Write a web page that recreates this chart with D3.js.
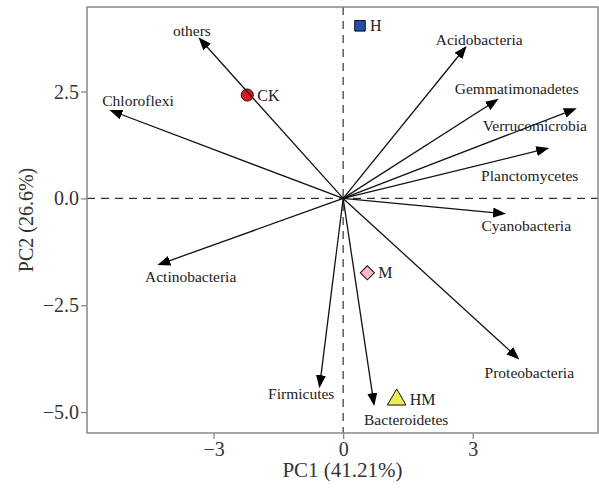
<!DOCTYPE html>
<html>
<head>
<meta charset="utf-8">
<script src="https://cdn.jsdelivr.net/npm/d3@7"></script>
<style>
  body { margin: 0; background: #fff; }
  svg { display: block; font-family: 'Liberation Serif', 'Times New Roman', serif; }
</style>
</head>
<body>
<div id="chart"></div>
<script>
// PCA biplot: phylum loadings (arrows) and sample scores (points)

// Loadings (arrow tips) in PC units
const taxa = ['others', 'Chloroflexi', 'Acidobacteria', 'Gemmatimonadetes', 'Verrucomicrobia',
    'Planctomycetes', 'Cyanobacteria', 'Proteobacteria', 'Bacteroidetes', 'Firmicutes', 'Actinobacteria'];
const loadPC1 = [-3.35, -5.41, 2.86, 3.60, 5.41, 4.77, 3.77, 4.08, 0.72, -0.55, -4.30];
const loadPC2 = [3.77, 2.07, 3.57, 2.33, 2.11, 1.18, -0.36, -3.77, -4.86, -4.44, -1.56];

// Where each taxon name sits (PC units, text centre)
const labelPC1 = [-3.50, -4.75, 3.15, 4.02, 4.44, 4.32, 4.24, 4.31, 1.46, -0.97, -3.53];
const labelPC2 = [3.93, 2.30, 3.72, 2.56, 1.70, 0.53, -0.64, -4.07, -5.17, -4.57, -1.82];

// Sample scores
const samples = ['CK', 'H', 'M', 'HM'];
const scorePC1 = [-2.22, 0.39, 0.56, 1.24];
const scorePC2 = [2.42, 4.04, -1.74, -4.71];
const sampleColors = ['#e0161d', '#1f4fa6', '#f7b8c3', '#eeec55'];
const sampleShapes = ['circle', 'square', 'diamond', 'triangle'];

// Axes
const xTicks = [-3, 0, 3];
const yTicks = [2.5, 0, -2.5, -5];
const xDomain = [-5.93, 5.90];
const yDomain = [-5.49, 4.48];
const xTitle = 'PC1 (41.21%)';
const yTitle = 'PC2 (26.6%)';

const W = 599, H = 489;
const margin = { top: 7, right: 1, bottom: 56, left: 87 };
const iw = W - margin.left - margin.right;
const ih = H - margin.top - margin.bottom;

const svg = d3.select('#chart').append('svg')
    .attr('width', W)
    .attr('height', H);

const g = svg.append('g')
    .attr('transform', `translate(${margin.left},${margin.top})`);

const x = d3.scaleLinear().domain(xDomain).range([0, iw]);
const y = d3.scaleLinear().domain(yDomain).range([ih, 0]);

// symbol drawing: size in px area, half width used for label offset
const shapeStyle = {
    circle:   { type: d3.symbolCircle,   size: 115, rot: 0,  half: 6 },
    square:   { type: d3.symbolSquare,   size: 112, rot: 0,  half: 6 },
    diamond:  { type: d3.symbolSquare,   size: 100, rot: 45, half: 7 },
    triangle: { type: d3.symbolTriangle, size: 150, rot: 0,  half: 9 }
};

// arrowhead
svg.append('defs').append('marker')
    .attr('id', 'head')
    .attr('markerUnits', 'userSpaceOnUse')
    .attr('viewBox', '0 0 13 10')
    .attr('markerWidth', 13)
    .attr('markerHeight', 10)
    .attr('refX', 8)
    .attr('refY', 5)
    .attr('orient', 'auto')
    .append('path')
    .attr('d', 'M0,0 L13,5 L0,10 Z')
    .attr('fill', '#000');

// zero lines
g.append('line')
    .attr('x1', 0).attr('x2', iw)
    .attr('y1', y(0)).attr('y2', y(0))
    .attr('stroke', '#333').attr('stroke-width', 1.2)
    .attr('stroke-dasharray', '8,6');
g.append('line')
    .attr('x1', x(0)).attr('x2', x(0))
    .attr('y1', 0).attr('y2', ih)
    .attr('stroke', '#333').attr('stroke-width', 1.2)
    .attr('stroke-dasharray', '8,6');

// sample points
const pts = samples.map((s, i) => ({ name: s, px: scorePC1[i], py: scorePC2[i], st: shapeStyle[sampleShapes[i]], col: sampleColors[i] }));
g.selectAll('.pt')
    .data(pts)
    .enter().append('path')
    .attr('class', 'pt')
    .attr('transform', d => `translate(${x(d.px)},${y(d.py)}) rotate(${d.st.rot})`)
    .attr('d', d => d3.symbol().type(d.st.type).size(d.st.size)())
    .attr('fill', d => d.col)
    .attr('stroke', '#111')
    .attr('stroke-width', 1);

g.selectAll('.pt-label')
    .data(pts)
    .enter().append('text')
    .attr('class', 'pt-label')
    .attr('x', d => x(d.px) + d.st.half + 4)
    .attr('y', d => y(d.py))
    .attr('dy', '0.35em')
    .attr('font-size', 16)
    .attr('fill', '#222')
    .text(d => d.name);

// loading arrows (line stops a bit short, marker overshoots to the tip)
const arrows = taxa.map((t, i) => ({ name: t, lx: loadPC1[i], ly: loadPC2[i], tx: labelPC1[i], ty: labelPC2[i] }));
const shorten = (d, k) => {
    const dx = x(d.lx) - x(0), dy = y(d.ly) - y(0);
    const len = Math.sqrt(dx * dx + dy * dy);
    return [x(0) + dx * (len - k) / len, y(0) + dy * (len - k) / len];
};
g.selectAll('.arrow')
    .data(arrows)
    .enter().append('line')
    .attr('class', 'arrow')
    .attr('x1', x(0))
    .attr('y1', y(0))
    .attr('x2', d => shorten(d, 5)[0])
    .attr('y2', d => shorten(d, 5)[1])
    .attr('stroke', '#111')
    .attr('stroke-width', 1.3)
    .attr('marker-end', 'url(#head)');

g.selectAll('.taxon')
    .data(arrows)
    .enter().append('text')
    .attr('class', 'taxon')
    .attr('x', d => x(d.tx))
    .attr('y', d => y(d.ty))
    .attr('dy', '0.35em')
    .attr('text-anchor', 'middle')
    .attr('font-size', 15.5)
    .attr('fill', '#222')
    .text(d => d.name);

// frame
g.append('rect')
    .attr('width', iw).attr('height', ih)
    .attr('fill', 'none')
    .attr('stroke', '#888')
    .attr('stroke-width', 1.5);

// axes
const xAxis = g.append('g')
    .attr('transform', `translate(0,${ih})`)
    .call(d3.axisBottom(x).tickValues(xTicks).tickFormat(d3.format('d')).tickSize(6).tickPadding(3));
const yAxis = g.append('g')
    .call(d3.axisLeft(y).tickValues(yTicks).tickFormat(d3.format('.1f')).tickSize(6).tickPadding(2));

[xAxis, yAxis].forEach(a => {
    a.select('.domain').remove();
    a.selectAll('line').attr('stroke', '#888').attr('stroke-width', 1.3);
    a.selectAll('text')
        .attr('font-family', "'Liberation Serif', 'Times New Roman', serif")
        .attr('font-size', 20)
        .attr('fill', '#333');
});

svg.append('text')
    .attr('x', margin.left + iw / 2)
    .attr('y', H - 12)
    .attr('text-anchor', 'middle')
    .attr('font-size', 21)
    .attr('fill', '#333')
    .text(xTitle);

svg.append('text')
    .attr('transform', `translate(26,${margin.top + ih / 2}) rotate(-90)`)
    .attr('text-anchor', 'middle')
    .attr('dy', '0.35em')
    .attr('font-size', 20)
    .attr('fill', '#333')
    .text(yTitle);
</script>
</body>
</html>
